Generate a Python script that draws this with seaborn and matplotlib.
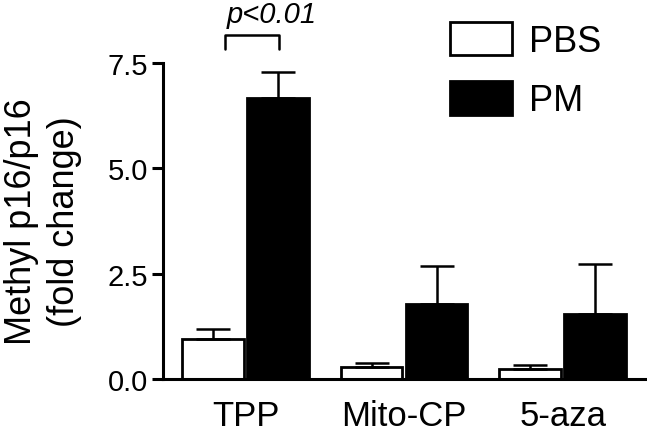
import numpy as np
import pandas as pd
import seaborn as sns
import matplotlib.pyplot as plt
from matplotlib.patches import Patch
from matplotlib.ticker import FormatStrFormatter

treatments = ['TPP', 'Mito-CP', '5-aza']
groups = ['PBS', 'PM']
pbs_mean = [0.95, 0.28, 0.24]
pbs_err = [0.25, 0.10, 0.09]
pm_mean = [6.65, 1.78, 1.54]
pm_err = [0.63, 0.89, 1.18]

df = pd.DataFrame({
    'treatment': treatments * 2,
    'group': ['PBS'] * 3 + ['PM'] * 3,
    'value': pbs_mean + pm_mean,
})
errs = {'PBS': pbs_err, 'PM': pm_err}
colors = {'PBS': 'white', 'PM': 'black'}

sns.set_style('ticks', rc={'text.color': 'black', 'axes.labelcolor': 'black',
                           'axes.edgecolor': 'black', 'xtick.color': 'black',
                           'ytick.color': 'black'})
plt.rcParams['font.family'] = ['Liberation Sans', 'DejaVu Sans']

fig = plt.figure(figsize=(6.47, 4.35), dpi=100)
ax = fig.add_axes([0.252, 0.126, 0.745, 0.728])

sns.barplot(data=df, x='treatment', y='value', hue='group', hue_order=groups,
            order=treatments, palette=colors, edgecolor='black', linewidth=2,
            width=0.82, gap=0.05, errorbar=None, saturation=1, ax=ax)

# one-sided (upper) error bars on top of each bar
for grp, cont in zip(groups, ax.containers):
    bars = sorted(cont.patches, key=lambda p: p.get_x())
    xs = [b.get_x() + b.get_width() / 2 for b in bars]
    hs = [b.get_height() for b in bars]
    up = errs[grp]
    ax.errorbar(xs, hs, yerr=[np.zeros(len(up)), up], fmt='none', ecolor='black',
                elinewidth=1.8, capsize=12, capthick=1.8, zorder=1)

ax.set_xlim(-0.52, 2.52)
ax.set_ylim(0, 7.5)
ax.set_yticks([0, 2.5, 5.0, 7.5])
ax.yaxis.set_major_formatter(FormatStrFormatter('%.1f'))
ax.set_xlabel('')
ax.set_ylabel('Methyl p16/p16\n(fold change)', fontsize=26, linespacing=1.3, labelpad=18)
sns.despine(ax=ax)
for s in ['left', 'bottom']:
    ax.spines[s].set_linewidth(2.2)
ax.tick_params(axis='y', length=8, width=2.2, labelsize=21, pad=3)
ax.tick_params(axis='x', length=0, labelsize=25, pad=14)

# significance bracket
ax.plot([-0.13, -0.13, 0.21, 0.21], [7.83, 8.15, 8.15, 7.83], color='black',
        lw=1.8, clip_on=False)
ax.text(-0.12, 8.46, 'p<0.01', style='italic', fontsize=21, ha='left',
        va='baseline', clip_on=False)

ax.legend_.remove()
handles = [Patch(facecolor=colors[g], edgecolor='black', linewidth=2) for g in groups]
fig.legend(handles, groups, loc='upper left', bbox_to_anchor=(0.696, 0.948),
           frameon=False, fontsize=26, handlelength=1.72, handleheight=1.05,
           labelspacing=0.62, handletextpad=0.45, borderpad=0, borderaxespad=0)

fig.savefig('out.png', dpi=100)
